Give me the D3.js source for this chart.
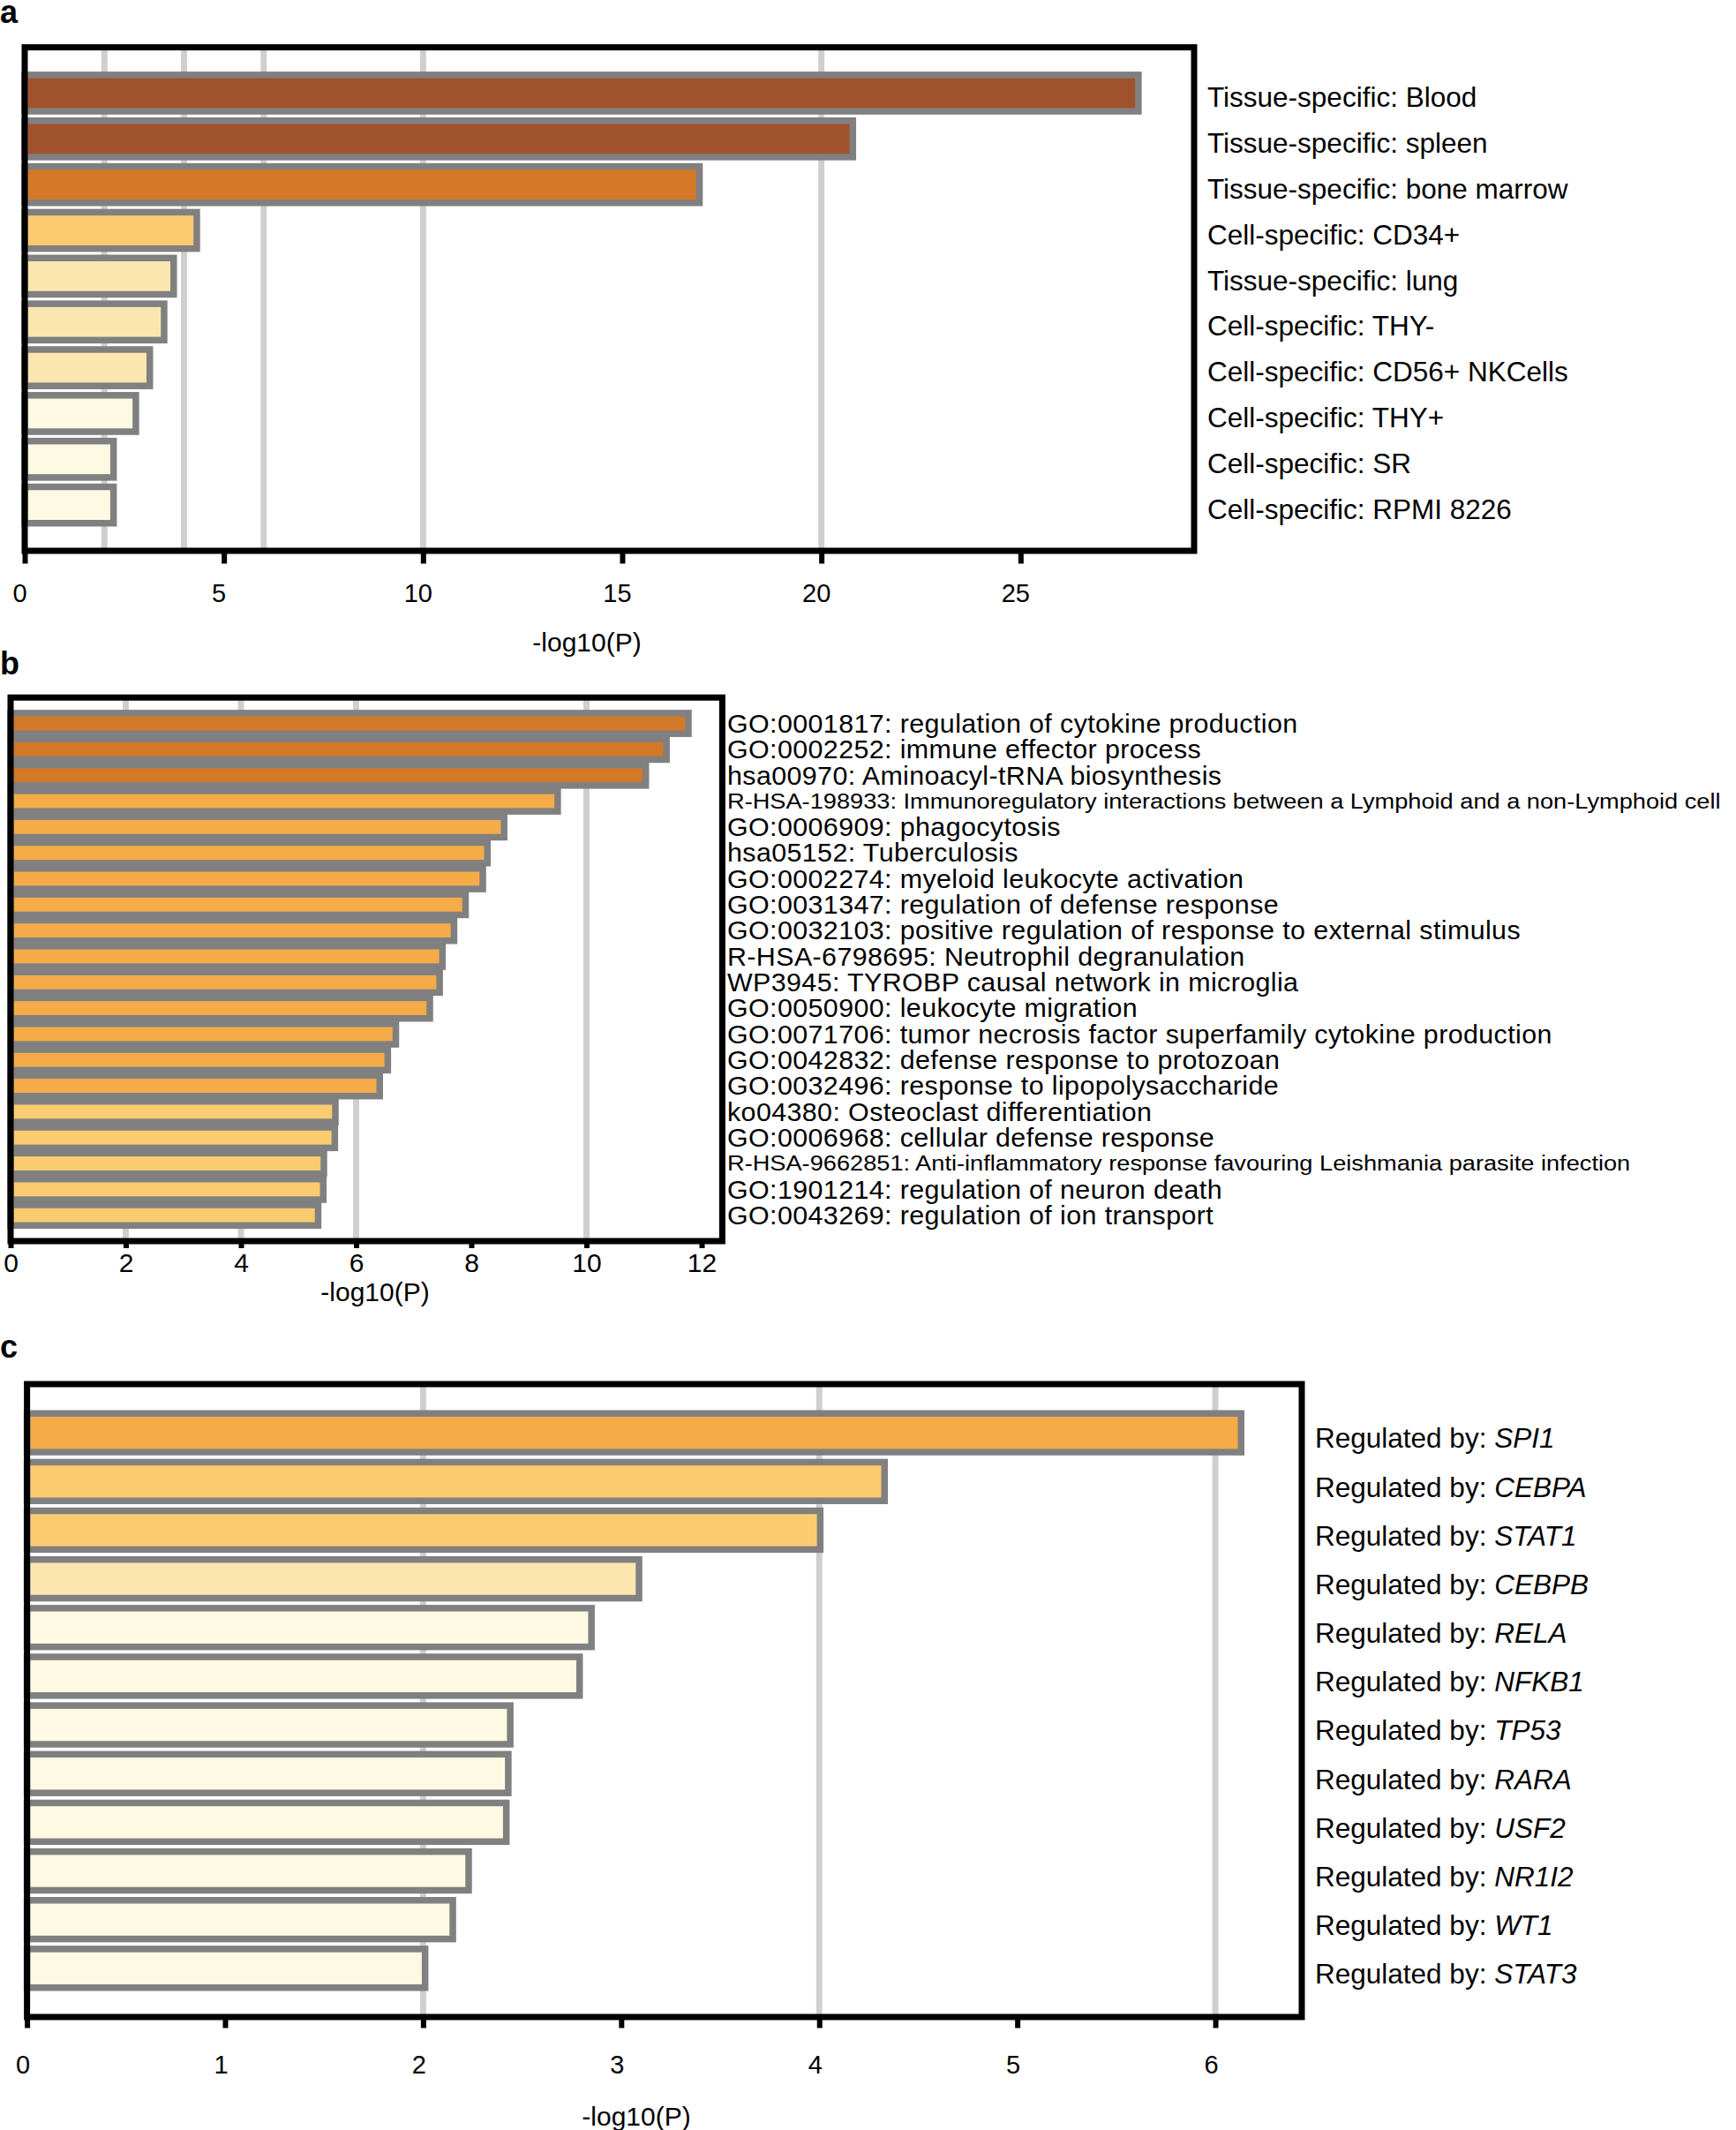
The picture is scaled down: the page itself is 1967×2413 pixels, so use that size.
<!DOCTYPE html>
<html>
<head>
<meta charset="utf-8">
<script src="https://cdn.jsdelivr.net/npm/d3@7"></script>
<style>
  html, body { margin: 0; padding: 0; background: #ffffff; }
  svg { display: block; }
  text { font-family: "Liberation Sans", Arial, Helvetica, sans-serif; fill: #000; }
</style>
</head>
<body>
<script>
// ---------------- DATA ----------------
const aCategories = [
  "Tissue-specific: Blood",
  "Tissue-specific: spleen",
  "Tissue-specific: bone marrow",
  "Cell-specific: CD34+",
  "Tissue-specific: lung",
  "Cell-specific: THY-",
  "Cell-specific: CD56+ NKCells",
  "Cell-specific: THY+",
  "Cell-specific: SR",
  "Cell-specific: RPMI 8226"
];
const aValues = [27.96, 20.79, 16.94, 4.32, 3.74, 3.50, 3.14, 2.79, 2.23, 2.23];
const aGrid = [2, 4, 6, 10, 20];
const aTicks = [0, 5, 10, 15, 20, 25];

const bCategories = [
  "GO:0001817: regulation of cytokine production",
  "GO:0002252: immune effector process",
  "hsa00970: Aminoacyl-tRNA biosynthesis",
  "R-HSA-198933: Immunoregulatory interactions between a Lymphoid and a non-Lymphoid cell",
  "GO:0006909: phagocytosis",
  "hsa05152: Tuberculosis",
  "GO:0002274: myeloid leukocyte activation",
  "GO:0031347: regulation of defense response",
  "GO:0032103: positive regulation of response to external stimulus",
  "R-HSA-6798695: Neutrophil degranulation",
  "WP3945: TYROBP causal network in microglia",
  "GO:0050900: leukocyte migration",
  "GO:0071706: tumor necrosis factor superfamily cytokine production",
  "GO:0042832: defense response to protozoan",
  "GO:0032496: response to lipopolysaccharide",
  "ko04380: Osteoclast differentiation",
  "GO:0006968: cellular defense response",
  "R-HSA-9662851: Anti-inflammatory response favouring Leishmania parasite infection",
  "GO:1901214: regulation of neuron death",
  "GO:0043269: regulation of ion transport"
];
const bValues = [11.77, 11.39, 11.03, 9.50, 8.57, 8.28, 8.20, 7.90, 7.70, 7.50,
                 7.45, 7.28, 6.69, 6.55, 6.41, 5.64, 5.63, 5.44, 5.43, 5.34];
const bGrid = [2, 4, 6, 10];
const bTicks = [0, 2, 4, 6, 8, 10, 12];

const cPrefix = "Regulated by: ";
const cGenes = ["SPI1", "CEBPA", "STAT1", "CEBPB", "RELA", "NFKB1", "TP53", "RARA", "USF2", "NR1I2", "WT1", "STAT3"];
const cValues = [6.13, 4.33, 4.005, 3.09, 2.85, 2.79, 2.44, 2.43, 2.42, 2.23, 2.15, 2.01];
const cGrid = [2, 4, 6];
const cTicks = [0, 1, 2, 3, 4, 5, 6];

// colour bins by -log10(P)
const binEdges = [3, 4, 6, 10, 20];
const binColors = ["#FDF9E3", "#FCE6B0", "#FACC6F", "#F5AB48", "#D27827", "#A0522D"];

// ---------------- DRAW ----------------
const W = 1967, H = 2413;
const svg = d3.select("body").append("svg")
  .attr("width", W).attr("height", H)
  .attr("viewBox", `0 0 ${W} ${H}`);
svg.append("rect").attr("width", W).attr("height", H).attr("fill", "#fff");

const color = d3.scaleThreshold().domain(binEdges).range(binColors);

function panel(cfg) {
  const g = svg.append("g");
  const n = cfg.values.length;
  const keys = d3.range(n);
  const x = d3.scaleLinear().domain([0, d3.max(cfg.values) * 1.05]).range([cfg.x0, cfg.x1]);
  const y = d3.scalePoint().domain(keys).range([cfg.y0, cfg.y1]).padding(1);
  const step = y.step();
  const bh = step * 0.795;

  // grid
  g.append("g").selectAll("line").data(cfg.grid).join("line")
    .attr("x1", d => x(d)).attr("x2", d => x(d))
    .attr("y1", cfg.y0).attr("y2", cfg.y1)
    .attr("stroke", "#cfcfcf").attr("stroke-width", 7);

  // bars
  g.append("g").selectAll("rect").data(keys).join("rect")
    .attr("x", x(0))
    .attr("y", i => y(i) - bh / 2)
    .attr("width", i => x(cfg.values[i]) - x(0))
    .attr("height", bh)
    .attr("fill", i => color(cfg.values[i]))
    .attr("stroke", "#808080")
    .attr("stroke-width", 7.5);

  // frame
  g.append("rect")
    .attr("x", cfg.x0).attr("y", cfg.y0)
    .attr("width", cfg.x1 - cfg.x0).attr("height", cfg.y1 - cfg.y0)
    .attr("fill", "none").attr("stroke", "#000").attr("stroke-width", 7);

  // axis
  const ax = g.append("g").attr("transform", `translate(0,${cfg.y1})`)
    .call(d3.axisBottom(x).tickValues(cfg.ticks).tickFormat(d3.format("d"))
      .tickSize(cfg.tickLen).tickPadding(cfg.tickPad).tickSizeOuter(0));
  ax.select(".domain").remove();
  ax.selectAll(".tick line").attr("stroke", "#000").attr("stroke-width", 6);
  ax.selectAll(".tick text")
    .attr("dx", cfg.tickShift)
    .attr("font-size", cfg.tickFont)
    .attr("font-family", "'Liberation Sans', Arial, sans-serif")
    .attr("fill", "#000");

  // axis title
  g.append("text")
    .attr("x", cfg.titleX).attr("y", cfg.titleY)
    .attr("dy", "0.35em")
    .attr("text-anchor", "middle")
    .attr("font-size", 30)
    .text("-log10(P)");

  // panel letter
  svg.append("text")
    .attr("x", cfg.letterX).attr("y", cfg.letterY)
    .attr("font-size", 36).attr("font-weight", "bold")
    .text(cfg.letter);

  // labels
  const lg = g.append("g");
  keys.forEach(i => {
    cfg.label(lg, i, cfg.labelX, y(i));
  });
}

// Panel a
panel({
  letter: "a", letterX: 0, letterY: 26,
  values: aValues, grid: aGrid, ticks: aTicks,
  x0: 28, x1: 1353, y0: 53.6, y1: 624,
  tickLen: 14.5, tickPad: 23, tickFont: 29, tickShift: -6,
  titleX: 665, titleY: 727,
  labelX: 1368,
  label: (sel, i, lx, cy) => {
    sel.append("text").attr("x", lx).attr("y", cy).attr("dy", "0.5em")
      .attr("font-size", 31.5).text(aCategories[i]);
  }
});

// Panel b
panel({
  letter: "b", letterX: 0, letterY: 764,
  values: bValues, grid: bGrid, ticks: bTicks,
  x0: 12, x1: 818.4, y0: 790.2, y1: 1406,
  tickLen: 8, tickPad: 6, tickFont: 30, tickShift: 0,
  titleX: 425, titleY: 1463,
  labelX: 824,
  label: (sel, i, lx, cy) => {
    const txt = bCategories[i];
    if (txt.length > 70) {
      sel.append("text")
        .attr("transform", `translate(${lx},${cy}) scale(1,0.86)`)
        .attr("x", 0).attr("y", 0).attr("dy", "0.35em")
        .attr("font-size", 27.2).text(txt);
    } else {
      sel.append("text").attr("x", lx).attr("y", cy).attr("dy", "0.34em")
        .attr("font-size", 30.4).attr("letter-spacing", "0.4px").text(txt);
    }
  }
});

// Panel c
panel({
  letter: "c", letterX: 0, letterY: 1538,
  values: cValues, grid: cGrid, ticks: cTicks,
  x0: 30.6, x1: 1475, y0: 1568, y1: 2285,
  tickLen: 12.5, tickPad: 31, tickFont: 29, tickShift: -5,
  titleX: 721, titleY: 2397,
  labelX: 1490,
  label: (sel, i, lx, cy) => {
    const t = sel.append("text").attr("x", lx).attr("y", cy).attr("dy", "0.55em")
      .attr("font-size", 31.5);
    t.append("tspan").text(cPrefix);
    t.append("tspan").attr("font-style", "italic").text(cGenes[i]);
  }
});
</script>
</body>
</html>
